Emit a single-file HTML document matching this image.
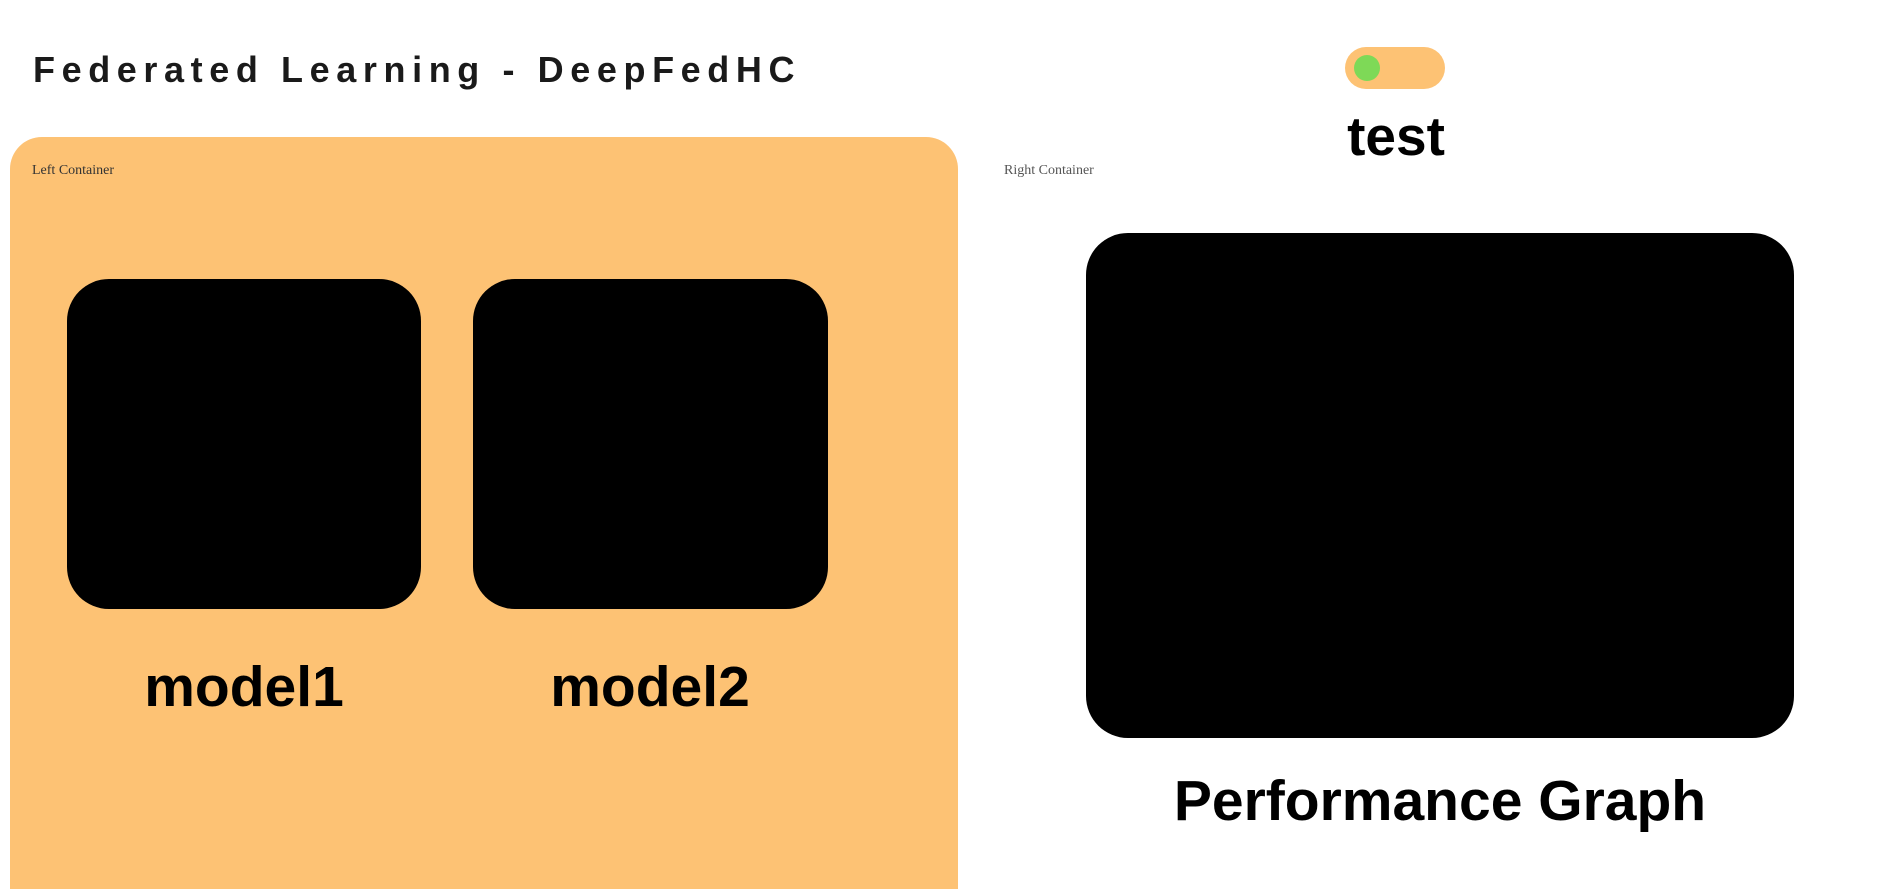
<!DOCTYPE html>
<html style="overflow:hidden;height:889px"><head><meta charset="utf-8"><style>
html,body{overflow:hidden}
body{margin:0;width:1897px;height:889px;background:#fff;position:relative;overflow:hidden;font-family:"Liberation Sans",sans-serif}
.a{position:absolute}
.title{left:33px;top:48px;font-size:36px;font-weight:bold;letter-spacing:6.6px;color:#1a1a1a;white-space:nowrap;line-height:44px}
.left{left:10px;top:137px;width:948px;height:752px;background:#FDC274;border-radius:32px 32px 0 0}
.small{font-family:"Liberation Serif",serif;font-size:14px;color:#333;white-space:nowrap}
.box{background:#000;border-radius:42px}
.lbl{font-weight:bold;font-size:57px;color:#000;text-align:center;white-space:nowrap;line-height:60px}
</style></head><body>
<div class="a title">Federated Learning - DeepFedHC</div>
<div class="a left"></div>
<div class="a small" style="left:32px;top:163px">Left Container</div>
<div class="a box" style="left:67px;top:279px;width:354px;height:330px"></div>
<div class="a box" style="left:473px;top:279px;width:355px;height:330px"></div>
<div class="a lbl" style="left:94px;top:657px;width:300px">model1</div>
<div class="a lbl" style="left:500px;top:657px;width:300px">model2</div>
<div class="a" style="left:1345px;top:47px;width:100px;height:42px;background:#FDC274;border-radius:21px"></div>
<div class="a" style="left:1354px;top:55px;width:26px;height:26px;background:#7ED957;border-radius:50%"></div>
<div class="a lbl" style="left:1296px;top:106px;width:200px;font-size:55px">test</div>
<div class="a small" style="left:1004px;top:163px;color:#555">Right Container</div>
<div class="a box" style="left:1086px;top:233px;width:708px;height:505px"></div>
<div class="a lbl" style="left:1140px;top:771px;width:600px">Performance Graph</div>
</body></html>
